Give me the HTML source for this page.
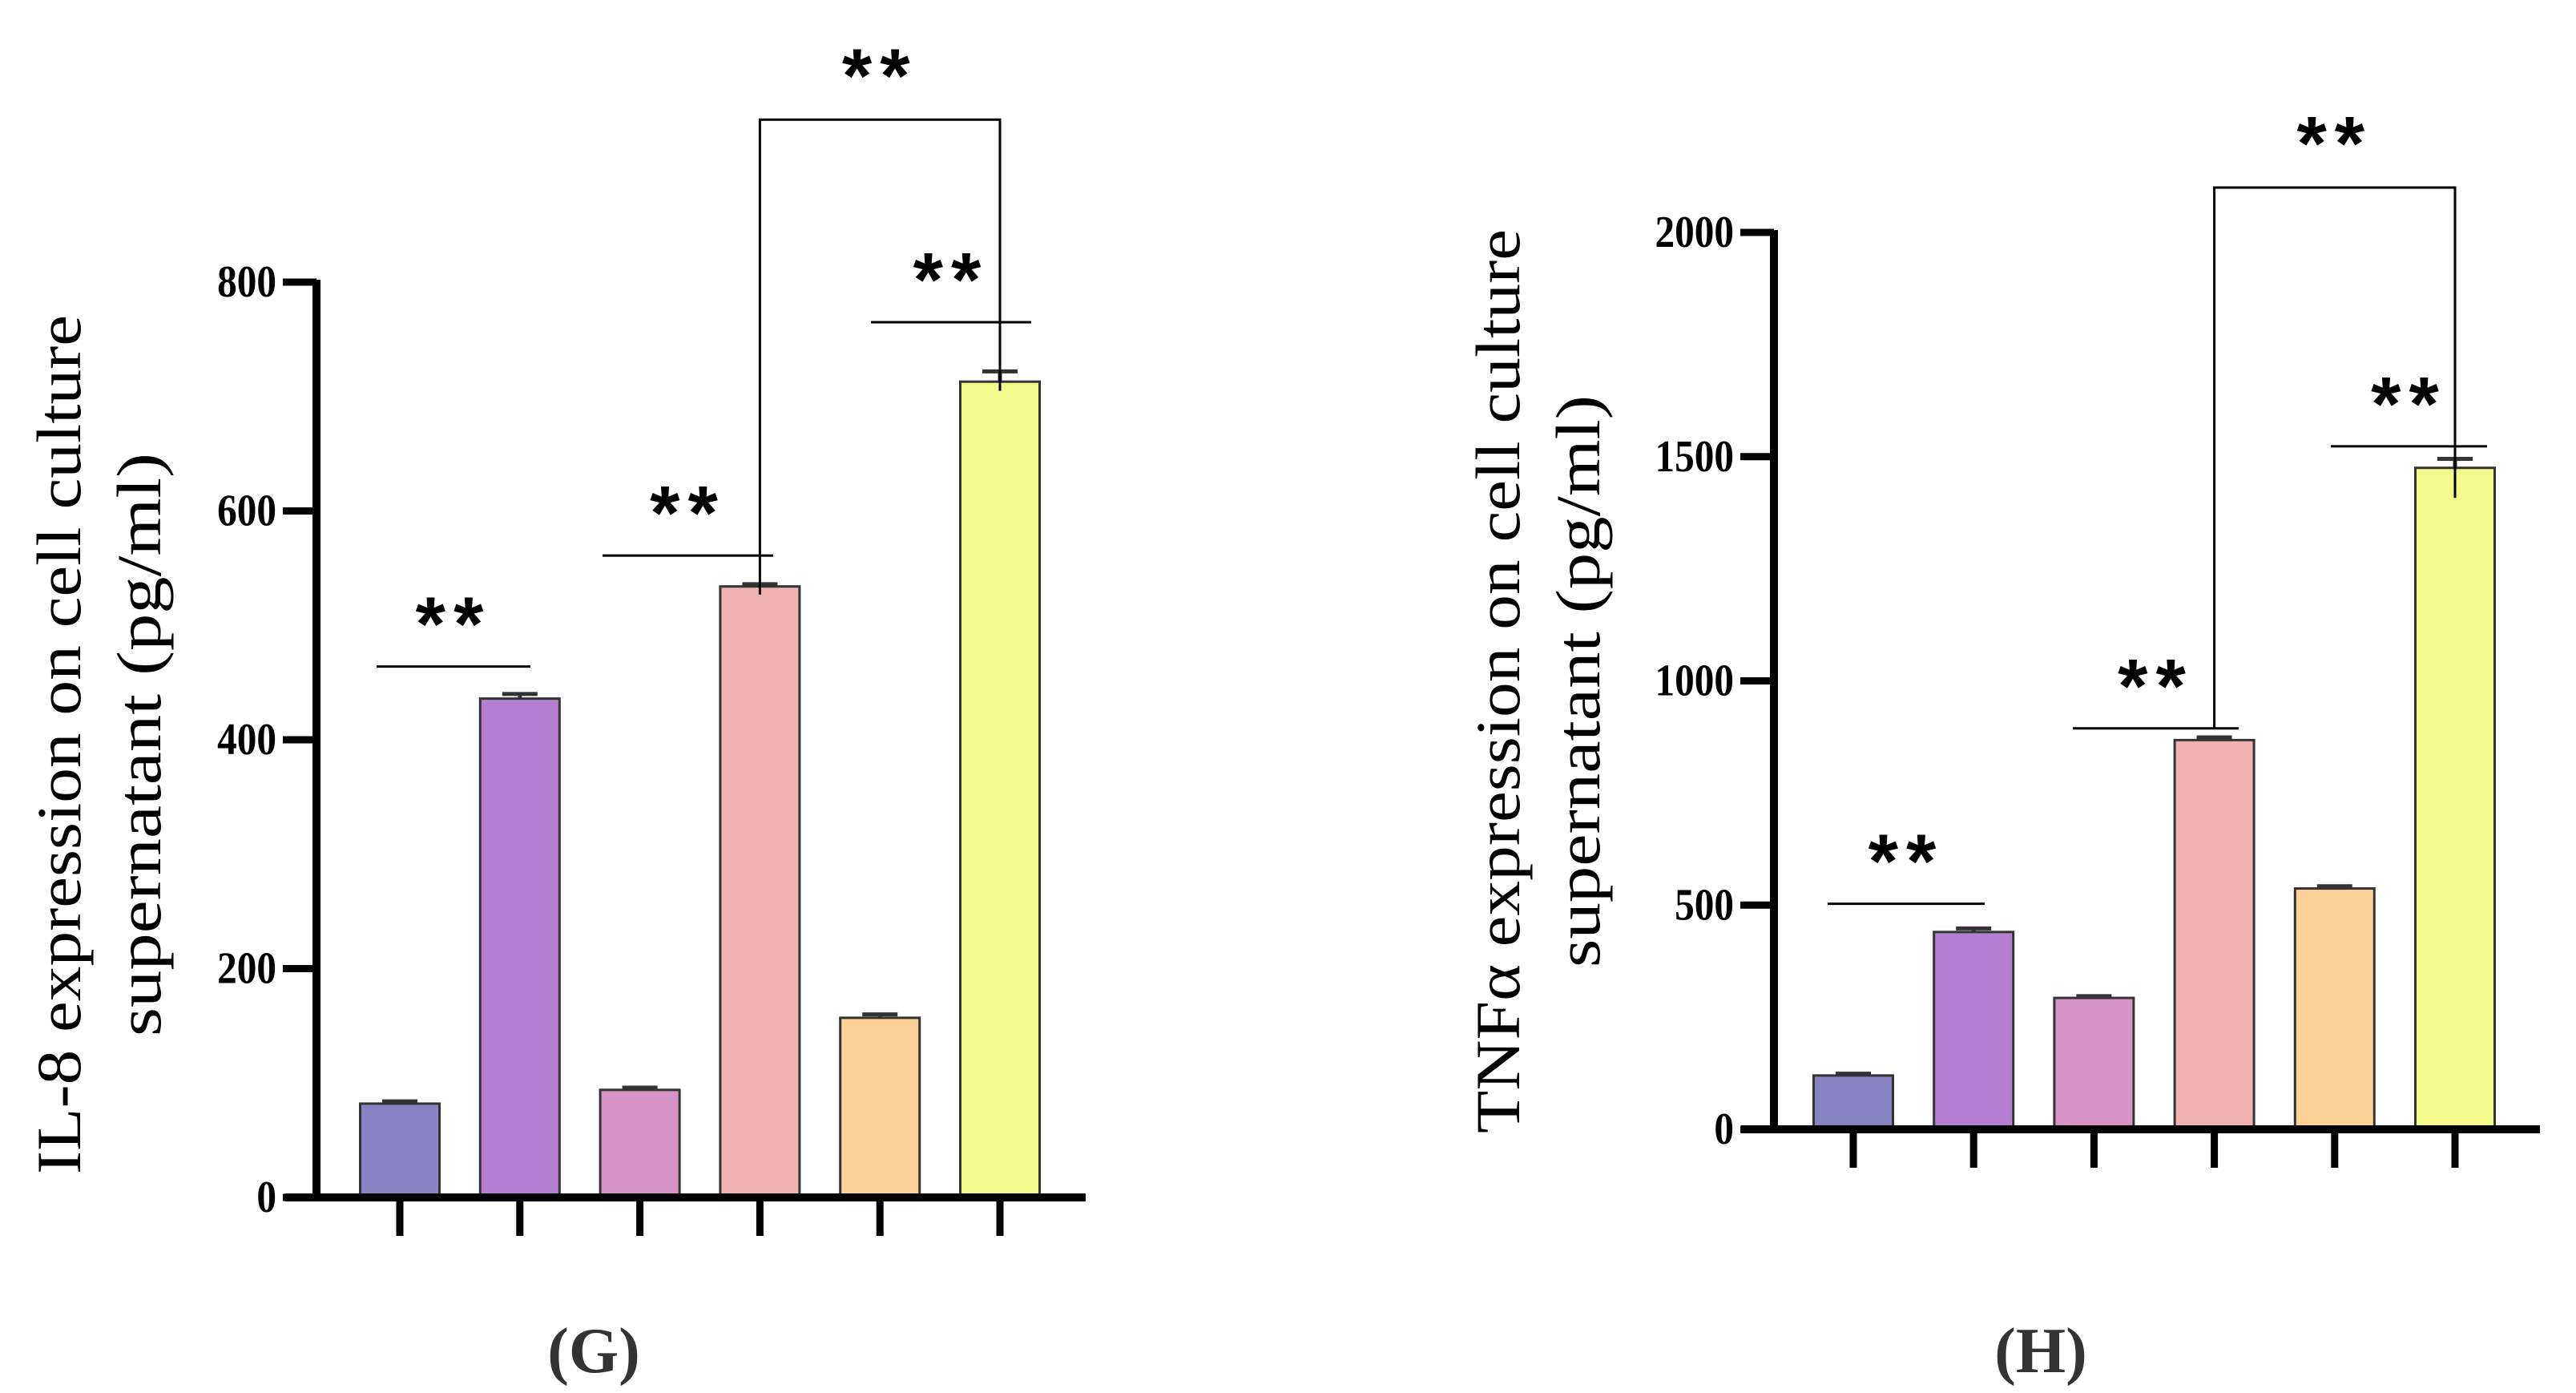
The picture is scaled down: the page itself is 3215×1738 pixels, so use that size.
<!DOCTYPE html>
<html><head><meta charset="utf-8"><style>
html,body{margin:0;padding:0;background:#fff;}
svg{display:block;}
</style></head><body>
<svg id="chart" width="3215" height="1738" viewBox="0 0 3215 1738" xmlns="http://www.w3.org/2000/svg"></svg>
<script>
// Panel G data (IL-8)
const gValues = [82, 436, 94, 534, 157, 713];
const gErrors = [2, 4, 2, 2, 3, 9];
const gTicks = [0, 200, 400, 600, 800];
// Panel H data (TNFa)
const hValues = [120, 440, 293, 868, 537, 1475];
const hErrors = [4, 8, 4, 6, 5, 20];
const hTicks = [0, 500, 1000, 1500, 2000];
const barColors = ['#8683c2', '#b47fd1', '#d893c6', '#f0b1b1', '#fbd198', '#f4f98c'];

const NS = 'http://www.w3.org/2000/svg';
const svg = document.getElementById('chart');
function mk(tag, attrs, parent) {
  const e = document.createElementNS(NS, tag);
  for (const k in attrs) e.setAttribute(k, attrs[k]);
  (parent || svg).appendChild(e);
  return e;
}

function panel(cfg) {
  const g = mk('g', {});
  
  
  const y = v => cfg.y0 - (v / cfg.max) * (cfg.y0 - cfg.yTop);
  const x = i => cfg.x0 + i * cfg.step;
  cfg.values.forEach((v, i) => {
    const r = mk('rect', {x: x(i) - cfg.bw / 2, y: y(v), width: cfg.bw, height: cfg.y0 - y(v), fill: barColors[i], stroke: '#333', 'stroke-width': 3}, g);
    
    
    const e = mk('path', {d: `M${x(i)},${y(v)} V${y(v + cfg.errors[i])} M${x(i) - 22},${y(v + cfg.errors[i])} H${x(i) + 22}`, stroke: '#333', 'stroke-width': 5, fill: 'none'}, g);
    
    
    const t = mk('line', {x1: x(i), x2: x(i), y1: cfg.y0, y2: cfg.y0 + 48, stroke: '#000', 'stroke-width': 9}, g);
    
    
  });
  const ax = mk('path', {d: `M${cfg.axX},${cfg.yTop - 3} V${cfg.y0} M${cfg.xStart},${cfg.y0} H${cfg.xEnd}`, stroke: '#000', 'stroke-width': 10, fill: 'none'}, g);
  
  
  cfg.ticks.forEach(tv => {
    const l = mk('line', {x1: cfg.axX - 42, x2: cfg.axX, y1: y(tv), y2: y(tv), stroke: '#000', 'stroke-width': 9}, g);
    
    
    const tx = mk('text', {x: 0, y: 0, transform: `translate(${cfg.axX - 50},${y(tv) + 18}) scale(0.88,1)`, 'text-anchor': 'end', 'font-family': 'Liberation Serif, serif', 'font-weight': 'bold', 'font-size': 56, fill: '#000'}, g);
    tx.textContent = tv;
    
    
  });
  function stars(cx, cy) {
    const s = mk('text', {x: cx, y: cy + 48, 'text-anchor': 'middle', 'font-family': 'Liberation Sans, sans-serif', 'font-weight': 'bold', 'font-size': 96, 'letter-spacing': 10, fill: '#000'}, g);
    s.textContent = '**';
    
    
  }
  cfg.sig.forEach(s => {
    const l = mk('line', {x1: s[0], x2: s[1], y1: y(s[2]), y2: y(s[2]), stroke: '#000', 'stroke-width': 3}, g);
    
    
    stars((s[0] + s[1]) / 2, y(s[2]) - 68);
  });
  const b = cfg.bracket;
  const p = mk('path', {d: `M${x(b[0])},${y(b[3])} V${y(b[2])} H${x(b[1])} V${y(b[4])}`, stroke: '#000', 'stroke-width': 3, fill: 'none'}, g);
  
  
  stars((x(b[0]) + x(b[1])) / 2, y(b[2]) - 70);
  const yt = mk('text', {transform: `translate(${cfg.titleX},${cfg.titleY}) rotate(-90)`, 'text-anchor': 'middle', 'font-family': 'Liberation Serif, serif', 'font-size': 78, fill: '#000'}, g);
  
  
  const t1 = mk('tspan', {x: 0, y: 0, textLength: cfg.len1, lengthAdjust: 'spacingAndGlyphs'}, yt); t1.textContent = cfg.title1;
  const t2 = mk('tspan', {x: 0, y: 100, textLength: cfg.len2, lengthAdjust: 'spacingAndGlyphs'}, yt); t2.textContent = 'supernatant (pg/ml)';
  const pl = mk('text', {x: cfg.labelX, y: 1712, 'text-anchor': 'middle', 'font-family': 'Liberation Serif, serif', 'font-weight': 'bold', 'font-size': 80, fill: '#333'}, g);
  pl.textContent = cfg.label;
  
  
}

panel({name: 'panel-g-il8', values: gValues, errors: gErrors, ticks: gTicks, max: 800,
  y0: 1494, yTop: 352, axX: 395, xStart: 356, xEnd: 1355, x0: 499, step: 149.8, bw: 99,
  sig: [[470, 662, 464], [752, 965, 561], [1087, 1287, 765]],
  bracket: [3, 5, 942, 527, 705],
  titleX: 100, titleY: 929, len1: 1072, len2: 728, title1: 'IL-8 expression on cell culture', labelX: 741, label: '(G)'});
panel({name: 'panel-h-tnfa', values: hValues, errors: hErrors, ticks: hTicks, max: 2000,
  y0: 1409, yTop: 290, axX: 2214, xStart: 2173, xEnd: 3170, x0: 2313, step: 150.2, bw: 99,
  sig: [[2281, 2477, 503], [2587, 2794, 894], [2909, 3104, 1523]],
  bracket: [3, 5, 2100, 894, 1408],
  titleX: 1896, titleY: 850, len1: 1128, len2: 714, title1: 'TNFα expression on cell culture', labelX: 2547, label: '(H)'});
</script>
</body></html>
